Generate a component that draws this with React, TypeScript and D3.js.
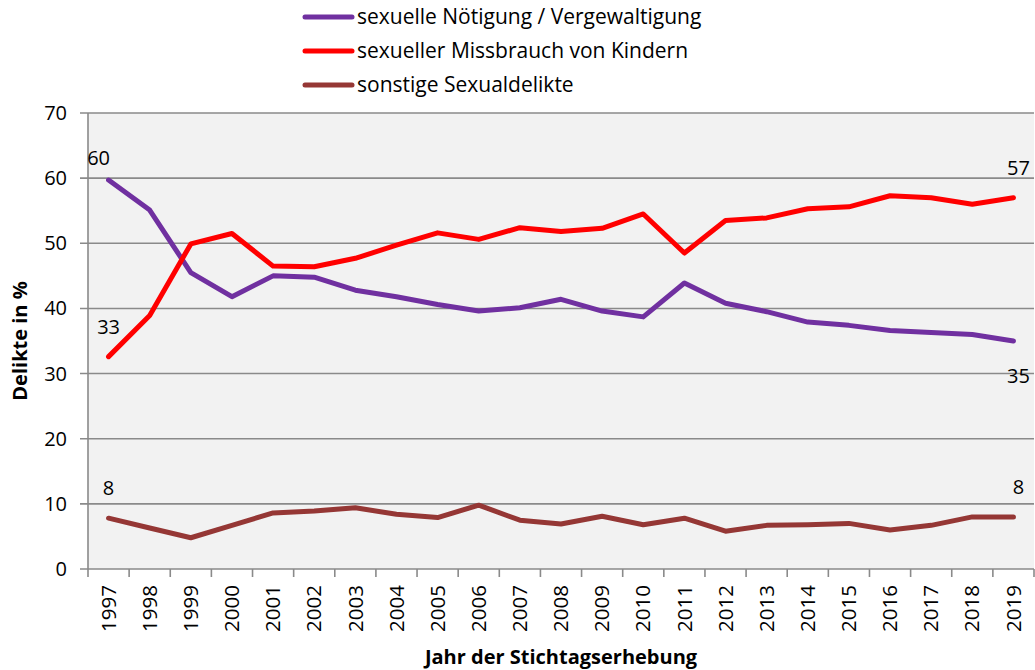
import React from "react";
import * as d3 from "d3";

const years = ["1997","1998","1999","2000","2001","2002","2003","2004","2005","2006","2007","2008","2009","2010","2011","2012","2013","2014","2015","2016","2017","2018","2019"];
const noetigung = [59.7,55.1,45.5,41.8,45.0,44.8,42.8,41.8,40.6,39.6,40.1,41.4,39.6,38.7,43.9,40.8,39.5,37.9,37.4,36.6,36.3,36.0,35.0];
const missbrauch = [32.6,38.9,49.9,51.5,46.5,46.4,47.7,49.7,51.6,50.6,52.4,51.8,52.3,54.5,48.5,53.5,53.9,55.3,55.6,57.3,57.0,56.0,57.0];
const sonstige = [7.8,6.3,4.8,6.7,8.6,8.9,9.4,8.4,7.9,9.8,7.5,6.9,8.1,6.8,7.8,5.8,6.7,6.8,7.0,6.0,6.7,8.0,8.0];
const yTicks = [0,10,20,30,40,50,60,70];
const seriesNames = ["sexuelle Nötigung / Vergewaltigung","sexueller Missbrauch von Kindern","sonstige Sexualdelikte"];
const seriesColors = ["#7030a0","#ff0000","#953735"];

const W = 1035, H = 670;
const left = 88, right = 1034, top = 113, bottom = 569;
const font = "'Open Sans', sans-serif";

export default function App() {
  const x = d3.scaleBand<string>().domain(years).range([left, right]);
  const y = d3.scaleLinear().domain([0, 70]).range([bottom, top]);
  const cx = (yr: string) => (x(yr) as number) + x.bandwidth() / 2;
  const series = [noetigung, missbrauch, sonstige];
  const line = (vals: number[]) =>
    d3.line<number>().x((_, i) => cx(years[i])).y((v) => y(v))(vals) as string;
  const first = years[0], last = years[years.length - 1];
  const n = years.length - 1;

  const labels = [
    { x: cx(first) - 10, y: y(noetigung[0]) - 22, t: Math.round(noetigung[0]) },
    { x: cx(first), y: y(missbrauch[0]) - 30, t: Math.round(missbrauch[0]) },
    { x: cx(first), y: y(sonstige[0]) - 30, t: Math.round(sonstige[0]) },
    { x: cx(last) + 5, y: y(missbrauch[n]) - 30, t: Math.round(missbrauch[n]) },
    { x: cx(last) + 5, y: y(noetigung[n]) + 35, t: Math.round(noetigung[n]) },
    { x: cx(last) + 5, y: y(sonstige[n]) - 30, t: Math.round(sonstige[n]) },
  ];

  return (
    <svg width={W} height={H} style={{ position: "absolute", left: 0, top: 0, background: "#fff" }} fontFamily={font}>
      <rect x={left} y={top} width={right - left} height={bottom - top} fill="#f2f2f2" />
      {yTicks.map((t) => (
        <g key={t}>
          <line x1={left - 8} x2={right} y1={y(t)} y2={y(t)} stroke="#8a8a8a" strokeWidth={1.6} />
          <text x={67} y={y(t)} dy="0.35em" textAnchor="end" fontSize={20} fill="#000">{t}</text>
        </g>
      ))}
      <line x1={left} x2={left} y1={top} y2={bottom} stroke="#8a8a8a" strokeWidth={1.6} />
      {years.map((yr) => (
        <line key={"t" + yr} x1={(x(yr) as number)} x2={(x(yr) as number)} y1={bottom} y2={bottom + 8} stroke="#8a8a8a" strokeWidth={1.6} />
      ))}
      <line x1={right} x2={right} y1={bottom} y2={bottom + 8} stroke="#8a8a8a" strokeWidth={1.6} />
      {years.map((yr) => (
        <text key={yr} transform={`translate(${cx(yr)},585) rotate(-90)`} dy="0.35em" textAnchor="end" fontSize={20.5} fill="#000">{yr}</text>
      ))}
      {series.map((s, i) => (
        <path key={i} d={line(s)} fill="none" stroke={seriesColors[i]} strokeWidth={5} strokeLinejoin="round" strokeLinecap="round" />
      ))}
      {labels.map((l, i) => (
        <text key={i} x={l.x} y={l.y} dy="0.35em" textAnchor="middle" fontSize={20} fill="#000">{l.t}</text>
      ))}
      <text transform={`translate(20,${(top + bottom) / 2}) rotate(-90)`} dy="0.35em" textAnchor="middle" fontSize={20} fontWeight="bold" fill="#000">Delikte in %</text>
      <text x={(left + right) / 2} y={657} dy="0.35em" textAnchor="middle" fontSize={20} fontWeight="bold" fill="#000">Jahr der Stichtagserhebung</text>
      {seriesNames.map((nm, i) => (
        <g key={nm} transform={`translate(0,${17 + i * 34})`}>
          <line x1={305} x2={352} y1={0} y2={0} stroke={seriesColors[i]} strokeWidth={5} strokeLinecap="round" />
          <text x={357} y={0} dy="0.35em" fontSize={21} fill="#000">{nm}</text>
        </g>
      ))}
    </svg>
  );
}
